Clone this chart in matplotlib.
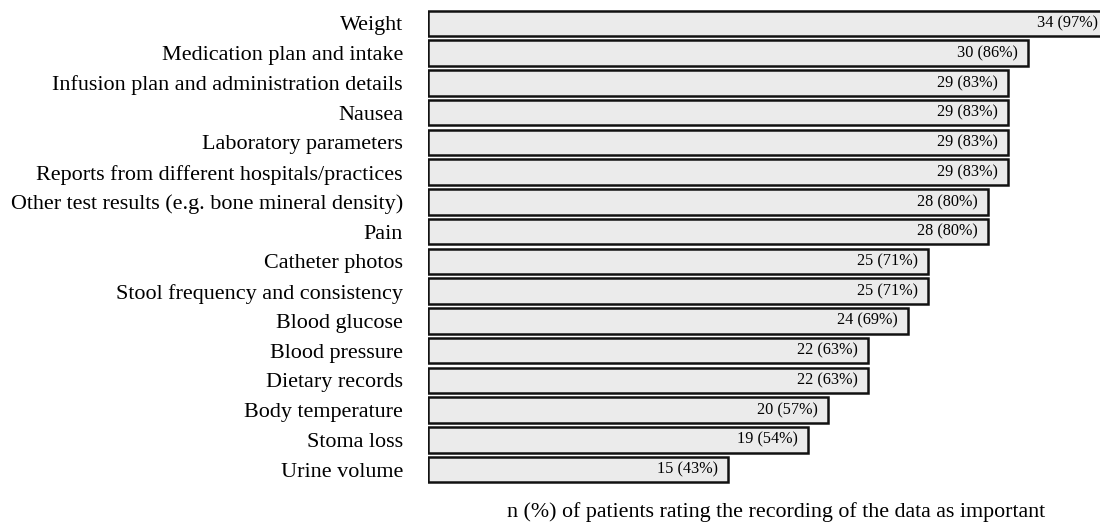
import matplotlib
matplotlib.use("Agg")
import matplotlib.pyplot as plt

plt.rcParams['font.family'] = ['Liberation Serif', 'DejaVu Serif']

# 数据
items = ['Weight', 'Medication plan and intake', 'Infusion plan and administration details',
         'Nausea', 'Laboratory parameters', 'Reports from different hospitals/practices',
         'Other test results (e.g. bone mineral density)', 'Pain', 'Catheter photos',
         'Stool frequency and consistency', 'Blood glucose', 'Blood pressure',
         'Dietary records', 'Body temperature', 'Stoma loss', 'Urine volume']
counts = [34, 30, 29, 29, 29, 29, 28, 28, 25, 25, 24, 22, 22, 20, 19, 15]
percents = [97, 86, 83, 83, 83, 83, 80, 80, 71, 71, 69, 63, 63, 57, 54, 43]

fig = plt.figure(figsize=(11, 5.23), dpi=100)
ax = fig.add_axes([428 / 1100, 1 - 484.4 / 523, 672 / 1100, (484.4 - 8.6) / 523])

pos = list(range(len(items)))
ax.barh(pos, counts, height=0.86, color='#ebebeb', edgecolor='#111111', linewidth=1.8)

# 柱内数值
for y, (n, p) in zip(pos, zip(counts, percents)):
    ax.text(n - 0.5, y, '%d (%d%%)' % (n, p), ha='right', va='center', fontsize=11.7)

ax.set_xlim(0, 33.6)
ax.set_ylim(15.5, -0.5)
ax.set_yticks(pos)
ax.set_yticklabels(items, fontsize=15.9)
ax.tick_params(axis='y', length=0, pad=18)
ax.set_xticks([])
for s in ax.spines.values():
    s.set_visible(False)

fig.text(776 / 1100, 1 - 517 / 523, 'n (%) of patients rating the recording of the data as important',
         ha='center', va='baseline', fontsize=15.8)

fig.savefig('out.png', dpi=100)
